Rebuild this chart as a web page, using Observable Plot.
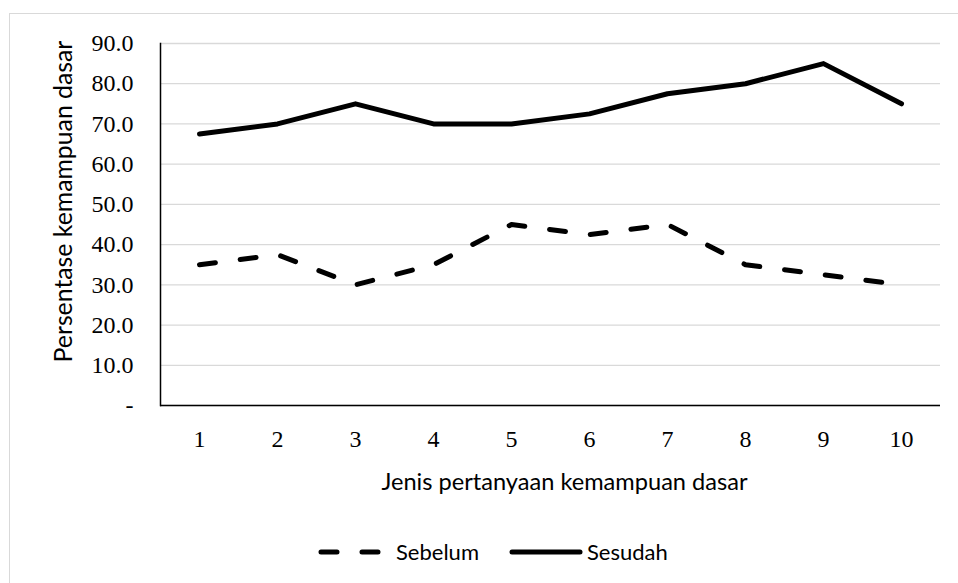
<!DOCTYPE html>
<html><head><meta charset="utf-8">
<script src="https://cdn.jsdelivr.net/npm/d3@7"></script>
<script src="https://cdn.jsdelivr.net/npm/@observablehq/plot@0.6"></script>
<style>
body{margin:0;background:#fff;width:958px;height:583px;overflow:hidden;position:relative;font-family:Lato,sans-serif;}
#frame{position:absolute;left:9px;top:13px;width:1000px;height:620px;border:1px solid #d9d9d9;z-index:2;pointer-events:none;}
#chart{position:absolute;left:0;top:0;}
#legend{position:absolute;left:0;top:537px;width:958px;}
</style></head>
<body>
<div id="chart"></div>
<div id="legend"></div>
<div id="frame"></div>
<script>
const categories = [1,2,3,4,5,6,7,8,9,10];
const sebelum = [35,37.5,30,35,45,42.5,45,35,32.5,30];
const sesudah = [67.5,70,75,70,70,72.5,77.5,80,85,75];
const seriesNames = ["Sebelum","Sesudah"];
const yTicks = [0,10,20,30,40,50,60,70,80,90];
const xTitle = "Jenis pertanyaan kemampuan dasar";
const yTitle = "Persentase kemampuan dasar";

const rows = [];
categories.forEach((c,i)=>{
  rows.push({cat:c, val:sebelum[i], s:seriesNames[0]});
  rows.push({cat:c, val:sesudah[i], s:seriesNames[1]});
});

const plot = Plot.plot({
  width:958, height:520,
  marginLeft:160, marginTop:43, marginRight:18, marginBottom:115,
  style:{background:"transparent", color:"#000"},
  x:{type:"point", domain:categories, padding:0.5},
  y:{domain:[0,90]},
  marks:[
    Plot.gridY(yTicks,{stroke:"#d9d9d9", strokeOpacity:1, strokeWidth:1.3}),
    Plot.axisY(yTicks,{tickSize:0, tickPadding:27, tickFormat:d=> d===0 ? "-" : d.toFixed(1),
      fontFamily:"Liberation Serif", fontSize:24, label:null}),
    Plot.text([yTitle],{frameAnchor:"left", textAnchor:"middle", rotate:-90, dx:-96, dy:-23,
      fontFamily:"Lato", fontSize:24.8}),
    Plot.axisX(categories,{tickSize:0, tickPadding:24, fontFamily:"Liberation Serif", fontSize:24, label:null}),
    Plot.text([xTitle],{frameAnchor:"bottom", textAnchor:"middle", lineAnchor:"middle", dx:14, dy:77,
      fontFamily:"Lato", fontSize:23.6}),
    Plot.frame({anchor:"left", stroke:"#000", strokeWidth:1.5}),
    Plot.lineY(rows.filter(d=>d.s==="Sebelum"),{x:"cat", y:"val", stroke:"#000", strokeWidth:5,
      strokeDasharray:"16,25", strokeLinecap:"round", strokeLinejoin:"round"}),
    Plot.lineY(rows.filter(d=>d.s==="Sesudah"),{x:"cat", y:"val", stroke:"#000", strokeWidth:5,
      strokeLinecap:"round", strokeLinejoin:"round"}),
    Plot.ruleY([0],{stroke:"#000", strokeWidth:1.5})
  ]
});
document.getElementById("chart").appendChild(plot);

// legend
const lg = d3.select("#legend").append("svg").attr("width",958).attr("height",32);
const items = [{name:seriesNames[0], x:319, dash:"16,25"},{name:seriesNames[1], x:510, dash:null}];
items.forEach(it=>{
  lg.append("line").attr("x1",it.x+2).attr("x2",it.x+70).attr("y1",15).attr("y2",15)
    .attr("stroke","#000").attr("stroke-width",5).attr("stroke-linecap","round")
    .attr("stroke-dasharray",it.dash);
  lg.append("text").attr("x",it.x+77).attr("y",15).attr("dy","0.35em")
    .attr("font-family","Lato").attr("font-size",22).text(it.name);
});
</script>
</body></html>
